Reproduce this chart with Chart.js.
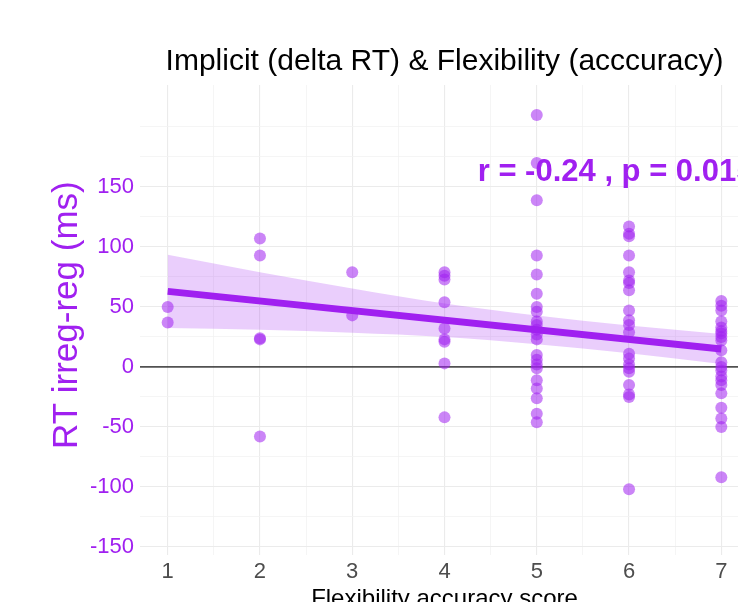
<!DOCTYPE html>
<html>
<head>
<meta charset="utf-8">
<script src="https://cdn.jsdelivr.net/npm/chart.js@4/dist/chart.umd.min.js"></script>
<style>
  html, body { margin: 0; padding: 0; background: #ffffff; overflow: hidden; }
  #wrap { width: 738px; height: 602px; overflow: hidden; position: relative; }
  canvas { display: block; }
</style>
</head>
<body>
<div id="wrap"><canvas id="c" width="760" height="620"></canvas></div>
<script>
// ---- Data ----
const scores = [1, 2, 3, 4, 5, 6, 7];
const rtScore1 = [50, 37];
const rtScore2 = [107, 93, 24, 23, -58];
const rtScore3 = [79, 43];
const rtScore4 = [79, 76, 73, 54, 32, 23, 21, 3, -42];
const rtScore5 = [210, 170, 139, 93, 77, 61, 50, 46, 38, 35, 31, 27, 23, 10, 6, 2, -1, -11, -18, -26, -39, -46];
const rtScore6 = [117, 111, 109, 93, 79, 72, 70, 64, 47, 39, 35, 29, 11, 7, 2, -1, -4, -15, -23, -25, -102];
const rtScore7 = [55, 51, 47, 38, 33, 30, 28, 25, 22, 14, 4, 0, -3, -8, -11, -15, -22, -34, -43, -50, -92];
const rtByScore = [rtScore1, rtScore2, rtScore3, rtScore4, rtScore5, rtScore6, rtScore7];

const fitX = [1, 7];
const fitY = [63, 15];
const bandUpper = [93.5, 79, 65.5, 53, 43, 34.5, 27.5];
const bandLower = [32.5, 31, 28.5, 25, 19, 11.5, 2.5];

const yTickValues = [-150, -125, -100, -75, -50, -25, 0, 25, 50, 75, 100, 125, 150, 175, 200];
const yLabelValues = [-150, -100, -50, 0, 50, 100, 150];
const xTickValues = [1, 1.5, 2, 2.5, 3, 3.5, 4, 4.5, 5, 5.5, 6, 6.5, 7];
const xLabelValues = [1, 2, 3, 4, 5, 6, 7];

const titleText = 'Implicit (delta RT) & Flexibility (acccuracy)';
const xTitle = 'Flexibility accuracy score';
const yTitle = ' RT irreg-reg (ms)';
const corLabel = 'r = -0.24 , p = 0.015';
const corLabelPos = { x: 4.36, y: 155 };

// ---- Build datasets ----
const PURPLE = '#A020F0';
const points = [];
scores.forEach((s, i) => rtByScore[i].forEach(v => points.push({ x: s, y: v })));
const upperPts = scores.map((s, i) => ({ x: s, y: bandUpper[i] }));
const lowerPts = scores.map((s, i) => ({ x: s, y: bandLower[i] }));
const fitPts = fitX.map((x, i) => ({ x: x, y: fitY[i] }));

Chart.defaults.font.family = '"Liberation Sans", Arial, Helvetica, sans-serif';

const corPlugin = {
  id: 'corLabel',
  afterDatasetsDraw(chart) {
    const ctx = chart.ctx;
    const xs = chart.scales.x, ys = chart.scales.y;
    ctx.save();
    ctx.font = 'bold 31px "Liberation Sans", Arial, sans-serif';
    ctx.fillStyle = PURPLE;
    ctx.textAlign = 'left';
    ctx.textBaseline = 'alphabetic';
    ctx.fillText(corLabel, xs.getPixelForValue(corLabelPos.x), ys.getPixelForValue(corLabelPos.y));
    ctx.restore();
  }
};

new Chart(document.getElementById('c'), {
  type: 'scatter',
  data: {
    datasets: [
      {
        type: 'line', data: upperPts, showLine: true, pointRadius: 0,
        borderWidth: 0, borderColor: 'transparent',
        backgroundColor: 'rgba(160,32,240,0.22)', fill: '+1', order: 1,
        cubicInterpolationMode: 'monotone'
      },
      {
        type: 'line', data: lowerPts, showLine: true, pointRadius: 0,
        borderWidth: 0, borderColor: 'transparent', fill: false, order: 1,
        cubicInterpolationMode: 'monotone'
      },
      {
        type: 'scatter', data: points, pointRadius: 6, pointHoverRadius: 6,
        backgroundColor: 'rgba(160,32,240,0.55)', borderWidth: 0, order: 2
      },
      {
        type: 'line', data: fitPts, showLine: true, pointRadius: 0,
        borderColor: PURPLE, borderWidth: 7, fill: false, order: 0,
        borderCapStyle: 'butt'
      }
    ]
  },
  options: {
    responsive: false,
    animation: false,
    devicePixelRatio: 1,
    events: [],
    layout: { padding: { left: 0, right: 11, top: 0, bottom: 0 } },
    plugins: {
      legend: { display: false },
      tooltip: { enabled: false },
      title: {
        display: true, text: titleText, color: '#000000', fullSize: false,
        font: { size: 30, weight: 'normal', lineHeight: 1.2 },
        padding: { top: 44, bottom: 5 }
      }
    },
    scales: {
      x: {
        type: 'linear', min: 0.7, max: 7.3,
        afterBuildTicks: (s) => { s.ticks = xTickValues.map(v => ({ value: v })); },
        afterFit: (s) => { s.height = 65; },
        border: { display: false },
        grid: {
          drawTicks: false,
          color: (c) => xLabelValues.includes(c.tick.value) ? '#EBEBEB' : '#F2F2F2',
          lineWidth: (c) => xLabelValues.includes(c.tick.value) ? 1.1 : 0.8
        },
        ticks: {
          padding: 4, color: '#4D4D4D', font: { size: 22 }, maxRotation: 0, autoSkip: false,
          callback: (v) => xLabelValues.includes(v) ? String(v) : ''
        },
        title: {
          display: true, text: xTitle, color: '#000000',
          font: { size: 24, lineHeight: 1.2 }, padding: { top: 0, bottom: 6 }
        }
      },
      y: {
        type: 'linear', min: -156.7, max: 235,
        afterBuildTicks: (s) => { s.ticks = yTickValues.map(v => ({ value: v })); },
        afterFit: (s) => { s.width = 140; },
        border: { display: false },
        grid: {
          drawTicks: false,
          color: (c) => c.tick.value === 0 ? 'rgba(50,50,50,0.85)' : (yLabelValues.includes(c.tick.value) ? '#EBEBEB' : '#F2F2F2'),
          lineWidth: (c) => c.tick.value === 0 ? 1.8 : (yLabelValues.includes(c.tick.value) ? 1.1 : 0.8)
        },
        ticks: {
          padding: 6, color: PURPLE, font: { size: 22 }, autoSkip: false,
          callback: (v) => yLabelValues.includes(v) ? String(v) : ''
        },
        title: {
          display: true, text: yTitle, color: PURPLE,
          font: { size: 35, lineHeight: 1.2 }, padding: { top: 46, bottom: 0 }
        }
      }
    }
  },
  plugins: [corPlugin]
});
</script>
</body>
</html>
